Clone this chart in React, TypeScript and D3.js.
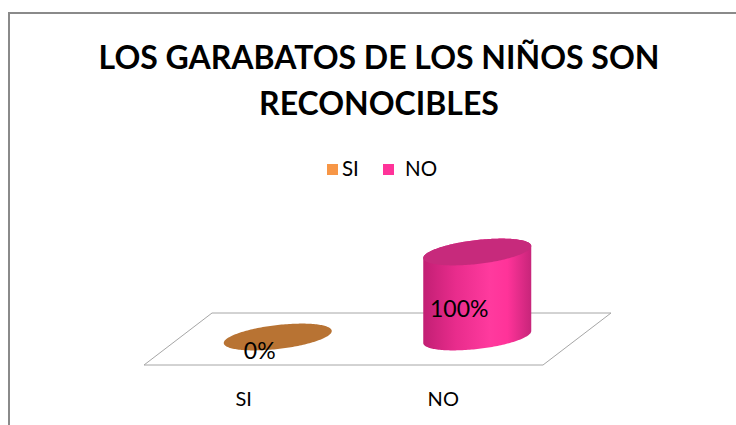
import React from "react";
import * as d3 from "d3";

const categories = ["SI", "NO"];
const values = [0, 1];
const valueLabels = ["0%", "100%"];
const legendNames = ["SI", "NO"];
const titleLines = ["LOS GARABATOS DE LOS NIÑOS SON", "RECONOCIBLES"];

const W = 736;
const H = 425;
const FONT = "Lato, 'Open Sans', sans-serif";

// floor geometry
const front = { x0: 144, x1: 543, y: 365 };
const depth = { dx: 68, dy: -52 };
const midY = front.y + depth.dy / 2 + -2; // bar base level

const xFront = d3.scaleBand<string>().domain(categories).range([front.x0, front.x1]);
const xMid = d3
  .scaleBand<string>()
  .domain(categories)
  .range([front.x0 + depth.dx / 2, front.x1 + depth.dx / 2]);
const y = d3.scaleLinear().domain([0, 1]).range([midY, midY - 85]);

const RX = 54;
const RY = 12;
const SHEAR = 6;

const ts = d3.range(0, 181).map((i) => (i / 180) * Math.PI * 2);
const pt = (cx: number, cy: number, t: number): [number, number] => [
  cx + RX * Math.cos(t),
  cy + RY * Math.sin(t) - SHEAR * Math.cos(t),
];
const lineGen = d3.line<[number, number]>().x((d) => d[0]).y((d) => d[1]);

function ellipsePath(cx: number, cy: number) {
  return lineGen(ts.map((t) => pt(cx, cy, t))) + "Z";
}

function sidePath(cx: number, yTop: number, yBot: number) {
  const n = 90;
  const pts: [number, number][] = [];
  pts.push(pt(cx, yTop, Math.PI));
  for (let i = 0; i <= n; i++) {
    const t = Math.PI - (i / n) * Math.PI;
    pts.push(pt(cx, yBot, t));
  }
  for (let i = 0; i <= n; i++) {
    const t = -(i / n) * Math.PI;
    pts.push(pt(cx, yTop, t));
  }
  return lineGen(pts) + "Z";
}

const colors = ["#F79646", "#FF3399"];
const topColors = ["#B87333", "#C72A7C"];

export default function App() {
  const floorPts: [number, number][] = [
    [front.x0, front.y],
    [front.x1, front.y],
    [front.x1 + depth.dx, front.y + depth.dy],
    [front.x0 + depth.dx, front.y + depth.dy],
  ];
  const bw = xMid.bandwidth();
  return (
    <svg
      width={W}
      height={H}
      style={{ position: "absolute", left: 0, top: 0, background: "#fff" }}
    >
      <defs>
        <linearGradient id="sideGrad1" x1="0" x2="1" y1="0" y2="0">
          <stop offset="0%" stopColor="#C21F74" />
          <stop offset="30%" stopColor="#E82C8C" />
          <stop offset="62%" stopColor="#FF3A9E" />
          <stop offset="78%" stopColor="#FF3399" />
          <stop offset="100%" stopColor="#C7257A" />
        </linearGradient>
        <linearGradient id="sideGrad0" x1="0" x2="1" y1="0" y2="0">
          <stop offset="0%" stopColor="#B0662A" />
          <stop offset="60%" stopColor="#F79646" />
          <stop offset="100%" stopColor="#B0662A" />
        </linearGradient>
      </defs>
      {/* frame */}
      <path d={`M9,${H} V13 H${W}`} fill="none" stroke="#8a8a8a" strokeWidth={2} />
      {/* title */}
      {titleLines.map((t, i) => (
        <text
          key={i}
          x={379}
          y={69 + i * 46}
          textAnchor="middle"
          fontFamily={FONT}
          fontWeight="bold"
          fontSize={32}
          fill="#000"
        >
          {t}
        </text>
      ))}
      {/* legend */}
      {legendNames.map((n, i) => {
        const lx = 327 + i * 56;
        return (
          <g key={n}>
            <rect x={lx} y={164} width={11} height={11} fill={colors[i]} />
            <text
              x={lx + 15 + i * 7}
              y={176}
              fontFamily={FONT}
              fontSize={20.5}
              fill="#000"
            >
              {n}
            </text>
          </g>
        );
      })}
      {/* floor */}
      <polygon
        points={floorPts.map((p) => p.join(",")).join(" ")}
        fill="#fff"
        stroke="#a6a6a6"
        strokeWidth={1}
      />
      {/* bars */}
      {categories.map((c, i) => {
        const cx = (xMid(c) as number) + bw / 2;
        const yTop = y(values[i]);
        const yBot = y(0);
        const h = yBot - yTop;
        return (
          <g key={c}>
            {h > 0.5 && (
              <path d={sidePath(cx, yTop, yBot)} fill={`url(#sideGrad${i})`} />
            )}
            <path d={ellipsePath(cx, yTop)} fill={topColors[i]} />
          </g>
        );
      })}
      {/* value labels */}
      {categories.map((c, i) => {
        const cx = (xMid(c) as number) + bw / 2;
        const cyLabel = (y(values[i]) + y(0)) / 2 + RY + 10;
        return (
          <text
            key={c}
            x={cx - 18}
            y={cyLabel}
            textAnchor="middle"
            fontFamily={FONT}
            fontSize={23}
            fill="#000"
          >
            {valueLabels[i]}
          </text>
        );
      })}
      {/* category labels */}
      {categories.map((c) => (
        <text
          key={c}
          x={(xFront(c) as number) + xFront.bandwidth() / 2}
          y={406}
          textAnchor="middle"
          fontFamily={FONT}
          fontSize={20}
          fill="#000"
        >
          {c}
        </text>
      ))}
    </svg>
  );
}
